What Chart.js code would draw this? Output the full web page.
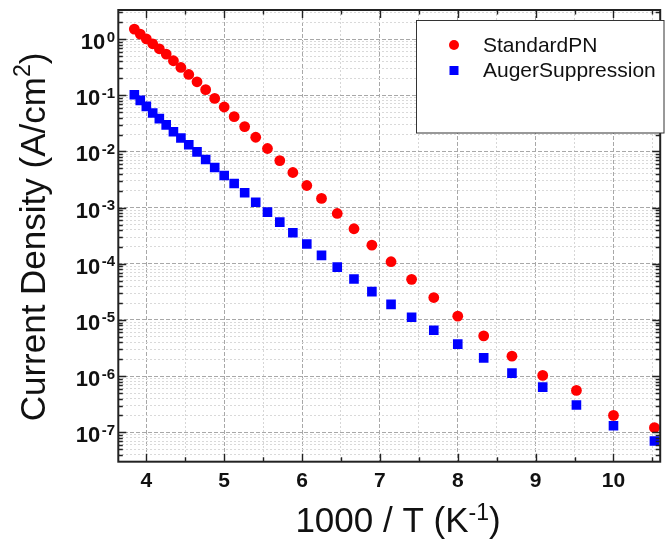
<!DOCTYPE html>
<html>
<head>
<meta charset="utf-8">
<script src="https://cdn.jsdelivr.net/npm/chart.js@4.4.1/dist/chart.umd.min.js"></script>
<style>
  html, body { margin: 0; padding: 0; background: #fff; }
  canvas { display: block; }
</style>
</head>
<body>
<canvas id="jChart" width="667" height="539"></canvas>
<script>
// 1000/T (K^-1), T = 260 K down to 95 K
const invT = [3.846, 3.922, 4.0, 4.082, 4.167, 4.255, 4.348, 4.444, 4.545, 4.651,
  4.762, 4.878, 5.0, 5.128, 5.263, 5.405, 5.556, 5.714, 5.882, 6.061,
  6.25, 6.452, 6.667, 6.897, 7.143, 7.407, 7.692, 8.0, 8.333, 8.696,
  9.091, 9.524, 10.0, 10.526];

// current density, A/cm^2
const standardPN = [1.51, 1.23, 1.01, 0.826, 0.673, 0.542, 0.412, 0.313, 0.235, 0.174,
  0.126, 0.0881, 0.0619, 0.0417, 0.0277, 0.0179, 0.0113, 0.00689, 0.00422, 0.00248,
  0.00146, 7.88e-4, 4.21e-4, 2.15e-4, 1.09e-4, 5.29e-5, 2.51e-5, 1.17e-5, 5.21e-6, 2.27e-6,
  1.03e-6, 5.58e-7, 2.0e-7, 1.21e-7];

const augerSuppression = [0.1024, 0.0811, 0.0635, 0.0485, 0.0384, 0.0297, 0.0225, 0.0174, 0.0132, 0.00983,
  0.00718, 0.00517, 0.00373, 0.00269, 0.00184, 0.00125, 8.31e-4, 5.52e-4, 3.58e-4, 2.25e-4,
  1.41e-4, 8.75e-5, 5.36e-5, 3.20e-5, 1.90e-5, 1.12e-5, 6.58e-6, 3.71e-6, 2.12e-6, 1.13e-6,
  6.38e-7, 3.06e-7, 1.31e-7, 7.02e-8];

const xMajorTicks = [4, 5, 6, 7, 8, 9, 10];
const xMinorTicks = [4.5, 5.5, 6.5, 7.5, 8.5, 9.5, 10.5];
const yDecades = [0, -1, -2, -3, -4, -5, -6, -7];   // labelled as 10^n
const yMantissas = [1, 2, 3, 4, 5, 6, 7, 8, 9];

const X_MIN = 3.64, X_MAX = 10.6;
const Y_MIN = 3.13e-8, Y_MAX = 3.3;

const FONT = "'Liberation Sans', Arial, sans-serif";
const INK = '#111';

function xTicks() {
  const t = xMajorTicks.map(v => ({ value: v, major: true }))
    .concat(xMinorTicks.map(v => ({ value: v, major: false })));
  return t.sort((a, b) => a.value - b.value);
}

function yTicks() {
  const t = [];
  for (let e = -8; e <= 0; e++) {
    yMantissas.forEach(m => {
      const v = m * Math.pow(10, e);
      if (v >= Y_MIN && v <= Y_MAX) t.push({ value: v, major: m === 1 });
    });
  }
  return t;
}

function drawSuper(ctx, parts, x, y) {
  // parts: [text, size, raise]
  let cx = x;
  parts.forEach(p => {
    ctx.font = `${p[1]}px ${FONT}`;
    ctx.fillText(p[0], cx, y - p[2]);
    cx += ctx.measureText(p[0]).width;
  });
}
function superWidth(ctx, parts) {
  return parts.reduce((s, p) => { ctx.font = `${p[1]}px ${FONT}`; return s + ctx.measureText(p[0]).width; }, 0);
}

const originFrame = {
  id: 'originFrame',
  afterDraw(chart) {
    const { ctx, chartArea: a, scales: { x, y } } = chart;
    ctx.save();

    // inward ticks on all four sides
    ctx.strokeStyle = '#222';
    ctx.lineWidth = 1.4;
    ctx.beginPath();
    x.ticks.forEach(t => {
      const px = Math.round(x.getPixelForValue(t.value)) + 0.5;
      const len = t.major ? 8 : 4.5;
      ctx.moveTo(px, a.bottom); ctx.lineTo(px, a.bottom - len);
      ctx.moveTo(px, a.top); ctx.lineTo(px, a.top + len);
    });
    y.ticks.forEach(t => {
      const py = Math.round(y.getPixelForValue(t.value)) + 0.5;
      const len = t.major ? 8 : 4.5;
      ctx.moveTo(a.left, py); ctx.lineTo(a.left + len, py);
      ctx.moveTo(a.right, py); ctx.lineTo(a.right - len, py);
    });
    ctx.stroke();

    // frame
    ctx.lineWidth = 2;
    ctx.strokeStyle = '#222';
    ctx.strokeRect(a.left, a.top, a.right - a.left, a.bottom - a.top);

    // y tick labels 10^n
    ctx.fillStyle = INK;
    ctx.textBaseline = 'alphabetic';
    yDecades.forEach(e => {
      const py = y.getPixelForValue(Math.pow(10, e));
      ctx.font = `bold 15px ${FONT}`;
      ctx.textAlign = 'right';
      const exp = String(e);
      const ew = ctx.measureText(exp).width;
      ctx.fillText(exp, 115, py + 2.5);
      ctx.font = `bold 22px ${FONT}`;
      ctx.fillText('10', 115 - ew - 1.5, py + 10);
    });

    // y axis title
    ctx.textAlign = 'left';
    const yParts = [['Current Density (A/cm', 35, 0], ['2', 23, 15.5], [')', 35, 0]];
    ctx.save();
    ctx.translate(45, 237);
    ctx.rotate(-Math.PI / 2);
    drawSuper(ctx, yParts, -superWidth(ctx, yParts) / 2, 0);
    ctx.restore();

    // x axis title
    const xParts = [['1000 / T (K', 35, 0], ['-1', 23, 12.5], [')', 35, 0]];
    drawSuper(ctx, xParts, 398 - superWidth(ctx, xParts) / 2, 532);

    // legend
    const bx = 416.5, by = 20.5, bw = 247.5, bh = 112.5;
    ctx.fillStyle = '#fff';
    ctx.fillRect(bx, by, bw, bh);
    ctx.lineWidth = 1;
    ctx.strokeStyle = '#333';
    ctx.strokeRect(bx, by, bw, bh);
    chart.data.datasets.forEach((ds, i) => {
      const ly = 45 + i * 25.5;
      ctx.fillStyle = ds.backgroundColor;
      if (ds.pointStyle === 'rect') {
        ctx.fillRect(449.5, ly - 4.5, 9, 9);
      } else {
        ctx.beginPath();
        ctx.arc(454, ly, 5, 0, Math.PI * 2);
        ctx.fill();
      }
      ctx.fillStyle = INK;
      ctx.font = `21px ${FONT}`;
      ctx.textBaseline = 'middle';
      ctx.fillText(ds.label, 483, ly + 1);
    });

    ctx.restore();
  }
};

new Chart(document.getElementById('jChart'), {
  type: 'scatter',
  data: {
    datasets: [
      {
        label: 'StandardPN',
        data: invT.map((v, i) => ({ x: v, y: standardPN[i] })),
        backgroundColor: '#ff0000',
        borderWidth: 0,
        pointStyle: 'circle',
        pointRadius: 5.4,
        order: 2
      },
      {
        label: 'AugerSuppression',
        data: invT.map((v, i) => ({ x: v, y: augerSuppression[i] })),
        backgroundColor: '#0000ff',
        borderWidth: 0,
        pointStyle: 'rect',
        pointRadius: 6.8,
        order: 1
      }
    ]
  },
  options: {
    responsive: false,
    animation: false,
    devicePixelRatio: 1,
    layout: { padding: { top: 10, right: 0, left: 0, bottom: 0 } },
    plugins: { legend: { display: false }, tooltip: { enabled: false } },
    scales: {
      x: {
        type: 'linear',
        min: X_MIN,
        max: X_MAX,
        afterBuildTicks: s => { s.ticks = xTicks(); },
        afterFit: s => { s.height = 77.3; },
        ticks: {
          autoSkip: false,
          maxRotation: 0,
          padding: 7,
          color: INK,
          font: { family: FONT, size: 21, weight: 'bold' },
          callback: v => Number.isInteger(v) ? String(v) : ''
        },
        grid: {
          drawTicks: false,
          lineWidth: 1,
          color: c => c.tick && c.tick.major ? '#a8a8a8' : '#d6d6d6'
        },
        border: { display: false, dash: c => c.tick && c.tick.major ? [4, 2] : [2, 2] }
      },
      y: {
        type: 'logarithmic',
        min: Y_MIN,
        max: Y_MAX,
        afterBuildTicks: s => { s.ticks = yTicks(); },
        afterFit: s => { s.width = 118.3; },
        ticks: { display: false, autoSkip: false },
        grid: {
          drawTicks: false,
          lineWidth: 1,
          color: c => c.tick && c.tick.major ? '#a8a8a8' : '#d9d9d9'
        },
        border: { display: false, dash: c => c.tick && c.tick.major ? [4, 2] : [2, 2] }
      }
    }
  },
  plugins: [originFrame]
});
</script>
</body>
</html>
